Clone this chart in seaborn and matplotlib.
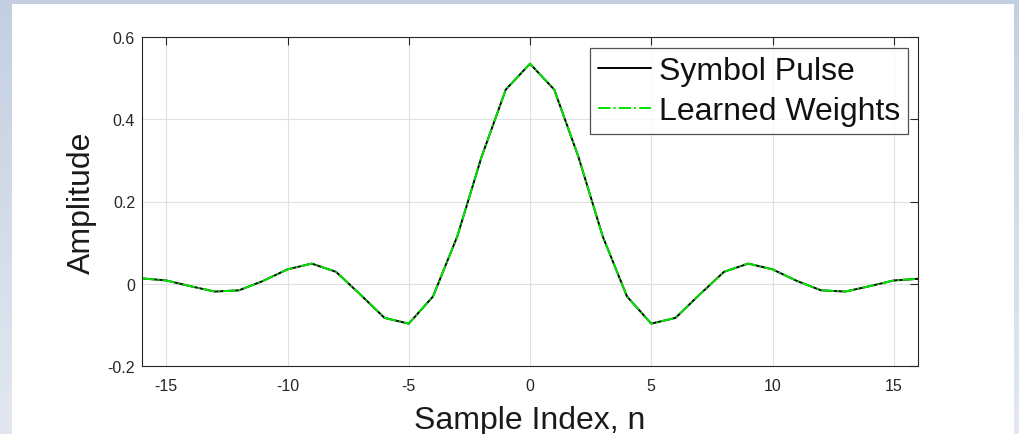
import numpy as np
import pandas as pd
import matplotlib
matplotlib.use('Agg')
import matplotlib.pyplot as plt
import seaborn as sns

# sample index and the two curves
n = list(range(-16, 17))
symbol_pulse = [0.013, 0.008, -0.006, -0.019, -0.016, 0.007, 0.035, 0.049, 0.029,
                -0.026, -0.083, -0.097, -0.031, 0.115, 0.308, 0.472, 0.535,
                0.472, 0.308, 0.115, -0.031, -0.097, -0.083, -0.026, 0.029,
                0.049, 0.035, 0.007, -0.016, -0.019, -0.006, 0.008, 0.012]
learned_weights = [0.013, 0.008, -0.006, -0.019, -0.016, 0.007, 0.035, 0.049, 0.029,
                   -0.026, -0.083, -0.097, -0.031, 0.115, 0.308, 0.472, 0.535,
                   0.472, 0.308, 0.115, -0.031, -0.097, -0.083, -0.026, 0.029,
                   0.049, 0.035, 0.007, -0.016, -0.019, -0.006, 0.008, 0.012]

x_ticks = [-15, -10, -5, 0, 5, 10, 15]
y_ticks = [-0.2, 0, 0.2, 0.4, 0.6]
y_tick_labels = ['-0.2', '0', '0.2', '0.4', '0.6']

df = pd.DataFrame({'n': n, 'Symbol Pulse': symbol_pulse, 'Learned Weights': learned_weights})

sns.set_style('white')
plt.rcParams['font.family'] = ['Liberation Sans', 'DejaVu Sans']
plt.rcParams['axes.unicode_minus'] = False

fig = plt.figure(figsize=(10.19, 4.35), dpi=100)

# bluish gradient frame behind a white panel
bg = fig.add_axes([0, 0, 1, 1], zorder=-10)
grad = np.linspace(0, 1, 256).reshape(-1, 1)
cmap = matplotlib.colors.LinearSegmentedColormap.from_list('bg', ['#c3cfe1', '#e3e8f0'])
bg.imshow(grad, aspect='auto', cmap=cmap, extent=[0, 1, 0, 1], origin='upper')
bg.add_patch(plt.Rectangle((12 / 1019, 0), (1014 - 12) / 1019, 1 - 5 / 435,
                           facecolor='white', edgecolor='none'))
bg.set_xlim(0, 1)
bg.set_ylim(0, 1)
bg.axis('off')

ax = fig.add_axes([142 / 1019, 1 - 367 / 435, 776 / 1019, 329 / 435])
ax.set_facecolor('white')

sns.lineplot(data=df, x='n', y='Symbol Pulse', ax=ax, color='black', lw=1.4,
             label='Symbol Pulse')
sns.lineplot(data=df, x='n', y='Learned Weights', ax=ax, color='#00e600', lw=1.4,
             linestyle='-.', label='Learned Weights')

ax.set_xlim(-16, 16)
ax.set_ylim(-0.2, 0.6)
ax.set_xticks(x_ticks)
ax.set_xticklabels([str(t) for t in x_ticks])
ax.set_yticks(y_ticks)
ax.set_yticklabels(y_tick_labels)
ax.grid(True, color='#e0e0e0', lw=0.8)
ax.tick_params(direction='in', length=6, width=0.8, color='#262626',
               labelsize=11.5, labelcolor='#262626', top=True, right=True)
ax.tick_params(axis='x', pad=9)
ax.tick_params(axis='y', pad=5)
for s in ax.spines.values():
    s.set_visible(True)
    s.set_color('#262626')
    s.set_linewidth(0.8)

ax.set_xlabel('Sample Index, n', fontsize=23, color='#1a1a1a', labelpad=8)
ax.set_ylabel('Amplitude', fontsize=23, color='#1a1a1a', labelpad=8)

leg = ax.legend(loc='upper right', bbox_to_anchor=(0.9871, 0.9666), borderaxespad=0,
                fontsize=23, frameon=True, fancybox=False, handlelength=1.65,
                handletextpad=0.25, labelspacing=0.31, borderpad=0.25)
leg.get_frame().set_edgecolor('#262626')
leg.get_frame().set_linewidth(0.9)
for t in leg.get_texts():
    t.set_color('#111111')

fig.savefig('out.png', dpi=100)
